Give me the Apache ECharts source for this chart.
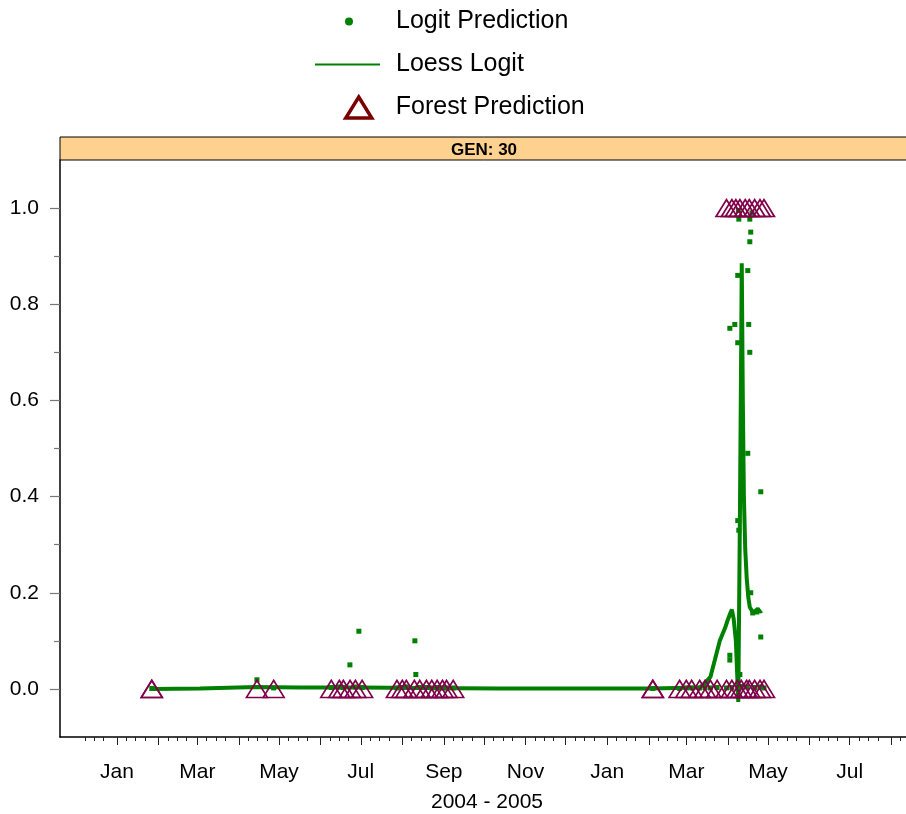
<!DOCTYPE html>
<html>
<head>
<meta charset="utf-8">
<script src="https://cdn.jsdelivr.net/npm/echarts@6/dist/echarts.min.js"></script>
<style>html,body{margin:0;padding:0;background:#fff}#c{width:906px;height:814px}</style>
</head>
<body>
<div id="c"></div>
<script>
// x values are days since 2004-01-01
var panelTitle = 'GEN: 30';
var xTitle = '2004 - 2005';
var monthStartDays = [-31, 0, 31, 60, 91, 121, 152, 182, 213, 244, 274, 305, 335, 366, 397, 425, 456, 486, 517, 547, 578];
var labelDays = [0, 60, 121, 182, 244, 305, 366, 425, 486, 547];
var labelNames = ['Jan', 'Mar', 'May', 'Jul', 'Sep', 'Nov', 'Jan', 'Mar', 'May', 'Jul'];
var yTickValues = [0, 0.2, 0.4, 0.6, 0.8, 1.0];
var yMinorTickValues = [0.1, 0.3, 0.5, 0.7, 0.9];

var logitPrediction = [
  [26,0.001],[104.5,0.019],[117,0.002],[160,0.003],[166,0.004],[169,0.003],[173.9,0.05],[178,0.004],
  [180.6,0.12],[183,0.003],[209,0.002],[213,0.003],[216,0.004],[222.4,0.10],[223.1,0.03],[226,0.003],
  [231,0.003],[235,0.002],[239,0.003],[243,0.002],[246,0.002],[251,0.002],[400,0.001],[420,0.001],
  [425,0.002],[429,0.002],[435,0.002],[439,0.003],[443,0.002],[448,0.003],
  [455,0.002],[457.5,0.07],[457.5,0.06],[457.5,0.75],[459,0.003],[461.2,0.758],[463.4,0.86],[463.4,0.72],
  [463.4,0.35],[464.2,0.33],[464.2,0.977],[463.9,0.995],[465,0.03],[466,0.005],[470,0.004],[470.9,0.87],
  [470.9,0.49],[471.6,0.758],[472.4,0.977],[472.4,0.93],[472.4,0.70],[473.1,0.95],[474,0.99],[473.1,0.20],
  [474.6,0.158],[476,0.003],[477.6,0.16],[480,0.004],[480.6,0.41],[480.6,0.108],[483,0.002]
];

var loessLogit = [
  [26.1,0.000],[62,0.001],[103.7,0.004],[136.6,0.003],[181,0.003],[226,0.002],[286,0.001],[360,0.001],
  [399,0.001],[435,0.003],[439,0.012],[443,0.025],[446.3,0.06],[450,0.10],[454,0.127],[456,0.144],
  [458.2,0.160],[459,0.165],[460.4,0.145],[462,0.10],[463,0.03],[463.8,-0.027],[465,0.35],[466,0.72],
  [466.4,0.885],[467.2,0.60],[468,0.40],[469,0.29],[470.1,0.23],[471.3,0.19],[472.4,0.17],[474.6,0.16],
  [476.9,0.163],[478.4,0.167],[479.9,0.16],[481.3,0.163]
];

var forestZeroDays = [26, 26, 104.5, 117, 160, 166, 169, 174, 178, 183, 209, 213, 216, 222, 226, 231, 235, 239,
  243, 246, 251, 400, 400, 420, 425, 429, 435, 439, 443, 448, 455, 459, 463, 466, 470, 472, 476, 480, 483];
var forestOneDays = [455, 459, 462, 465, 469, 472, 476, 480, 483];

var forestPrediction = forestZeroDays.map(function (d) { return [d, 0]; })
  .concat(forestOneDays.map(function (d) { return [d, 1]; }));

var weeklyTicks = [];
monthStartDays.forEach(function (m) { [7, 14, 21].forEach(function (k) { weeklyTicks.push(m + k); }); });
var monthTicks = monthStartDays.filter(function (d) { return d >= 0; });

var X_MIN = -42.5, X_MAX = 589, Y_MIN = -0.1, Y_MAX = 1.1;
var FONT = '"Liberation Sans", Arial, sans-serif';
var GREEN = '#008000';

var chart = echarts.init(document.getElementById('c'), null, { renderer: 'canvas' });
chart.setOption({
  animation: false,
  backgroundColor: '#fff',
  textStyle: { fontFamily: FONT },
  grid: { left: 60, right: 0, top: 160, bottom: 77, containLabel: false },
  legend: [
    { data: ['Logit Prediction'], left: 345, top: 9, padding: 0, icon: 'circle', itemWidth: 8, itemHeight: 8,
      itemStyle: { opacity: 1 },
      textStyle: { fontSize: 25, color: '#000', fontFamily: FONT, padding: [0, 0, 0, 38] } },
    { data: ['Loess Logit'], left: 315, top: 52, padding: 0, icon: 'rect', itemWidth: 65, itemHeight: 2,
      itemStyle: { color: GREEN },
      textStyle: { fontSize: 25, color: '#000', fontFamily: FONT, padding: [0, 0, 0, 11] } },
    { data: ['Forest Prediction'], left: 344, top: 95, padding: 0, icon: 'triangle', itemWidth: 26, itemHeight: 21,
      itemStyle: { color: 'transparent', borderColor: '#7a0000', borderWidth: 3.5, opacity: 1 },
      textStyle: { fontSize: 25, color: '#000', fontFamily: FONT, padding: [0, 0, 0, 19] } }
  ],
  graphic: [
    { type: 'rect', z: 100, shape: { x: 60, y: 137, width: 870, height: 23 },
      style: { fill: '#FFD18F', stroke: '#000', lineWidth: 1 } },
    { type: 'text', z: 101, x: 484, y: 150,
      style: { text: panelTitle, font: 'bold 17px ' + FONT, fill: '#000', align: 'center', verticalAlign: 'middle' } },
    { type: 'text', z: 101, x: 487, y: 802,
      style: { text: xTitle, font: '21px ' + FONT, fill: '#000', align: 'center', verticalAlign: 'middle' } }
  ],
  xAxis: [
    { type: 'value', min: X_MIN, max: X_MAX, position: 'bottom',
      splitLine: { show: false },
      axisLine: { show: true, onZero: false, lineStyle: { color: '#000', width: 1.5 } },
      axisTick: { show: true, customValues: monthTicks, length: 8, lineStyle: { color: '#222', width: 1 } },
      axisLabel: { show: true, customValues: labelDays, margin: 25, fontSize: 21, color: '#000', fontFamily: FONT,
        formatter: function (v) { var i = labelDays.indexOf(v); return i >= 0 ? labelNames[i] : ''; } } },
    { type: 'value', min: X_MIN, max: X_MAX, position: 'bottom',
      splitLine: { show: false },
      axisLine: { show: false, onZero: false },
      axisTick: { show: true, customValues: weeklyTicks, length: 4, lineStyle: { color: '#222', width: 1 } },
      axisLabel: { show: false } }
  ],
  yAxis: [
    { type: 'value', min: Y_MIN, max: Y_MAX, position: 'left',
      splitLine: { show: false },
      axisLine: { show: true, onZero: false, lineStyle: { color: '#000', width: 1.5 } },
      axisTick: { show: true, customValues: yTickValues, length: 10, lineStyle: { color: '#777', width: 1.2 } },
      axisLabel: { show: true, customValues: yTickValues, margin: 21, fontSize: 21, color: '#000', fontFamily: FONT,
        formatter: function (v) { return v.toFixed(1); } } },
    { type: 'value', min: Y_MIN, max: Y_MAX, position: 'left',
      splitLine: { show: false },
      axisLine: { show: false, onZero: false },
      axisTick: { show: true, customValues: yMinorTickValues, length: 6, lineStyle: { color: '#777', width: 1.2 } },
      axisLabel: { show: false } }
  ],
  series: [
    { name: 'Logit Prediction', type: 'scatter', xAxisIndex: 0, yAxisIndex: 0, data: logitPrediction,
      symbol: 'rect', symbolSize: 5, itemStyle: { color: GREEN, opacity: 1 }, z: 2 },
    { name: 'Loess Logit', type: 'line', xAxisIndex: 0, yAxisIndex: 0, data: loessLogit,
      symbol: 'none', showSymbol: false, smooth: false, lineStyle: { color: GREEN, width: 4 },
      itemStyle: { color: GREEN }, z: 3 },
    { name: 'Forest Prediction', type: 'scatter', xAxisIndex: 0, yAxisIndex: 0, data: forestPrediction,
      symbol: 'triangle', symbolSize: [21, 17],
      itemStyle: { color: 'transparent', borderColor: '#80004a', borderWidth: 1.6, opacity: 1 }, z: 4 }
  ]
});
</script>
</body>
</html>
